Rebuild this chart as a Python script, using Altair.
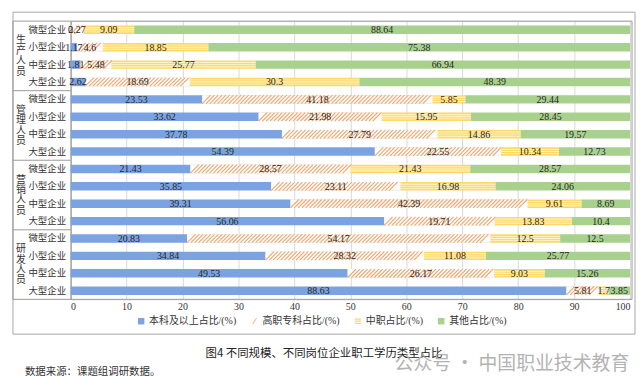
import altair as alt
import pandas as pd

groups = ["生产人员", "管理人员", "营销人员", "研发人员"]
sizes = ["微型企业", "小型企业", "中型企业", "大型企业"]
cats = ["本科及以上占比/(%)", "高职专科占比/(%)", "中职占比/(%)", "其他占比/(%)"]
colors = ["#7ba3e2", "#f4b183", "#ffd966", "#a9d18e"]

bachelor = [0, 1.17, 1.81, 2.62, 23.53, 33.62, 37.78, 54.39, 21.43, 35.85, 39.31, 56.06, 20.83, 34.84, 49.53, 88.63]
higher_voc = [2.27, 4.6, 5.48, 18.69, 41.18, 21.98, 27.79, 22.55, 28.57, 23.11, 42.39, 19.71, 54.17, 28.32, 26.17, 5.81]
sec_voc = [9.09, 18.85, 25.77, 30.3, 5.85, 15.95, 14.86, 10.34, 21.43, 16.98, 9.61, 13.83, 12.5, 11.08, 9.03, 1.7]
other = [88.64, 75.38, 66.94, 48.39, 29.44, 28.45, 19.57, 12.73, 28.57, 24.06, 8.69, 10.4, 12.5, 25.77, 15.26, 3.85]

caption = "图4   不同规模、不同岗位企业职工学历类型占比"
source = "数据来源：课题组调研数据。"
watermark = "公众号 · 中国职业技术教育"

series = [bachelor, higher_voc, sec_voc, other]
rows = []
keys = []
for gi, g in enumerate(groups):
    for si, s in enumerate(sizes):
        i = gi * 4 + si
        key = f"{g}|{s}"
        keys.append(key)
        start = 0.0
        for ci, c in enumerate(cats):
            v = series[ci][i]
            rows.append({"key": key, "group": g, "size": s, "cat": c, "order": ci,
                         "v": v, "x0": start, "x1": start + v, "mid": start + v / 2,
                         "label": f"{v:g}"})
            start += v
seg = pd.DataFrame(rows)

grp_rows = []
for gi, g in enumerate(groups):
    grp_rows.append({"first": f"{g}|{sizes[0]}", "second": f"{g}|{sizes[1]}",
                     "text": "\n".join(list(g)), "gi": gi})
grp = pd.DataFrame(grp_rows)

NUM_FONT = "Liberation Serif, Noto Sans CJK SC"
CJK = "Noto Sans CJK SC"

xscale = alt.Scale(domain=[0, 100], nice=False, zero=True)
xaxis = alt.Axis(values=list(range(0, 101, 10)), grid=True, gridColor="#d9d9d9", domain=False,
                 ticks=False, labelFont=NUM_FONT, labelFontSize=10, labelColor="#333333",
                 labelPadding=2, title=None)
yscale = alt.Scale(domain=keys, paddingInner=0, paddingOuter=0)
yaxis = alt.Axis(title=None, ticks=False, domain=True, domainColor="#8c8c8c", grid=False,
                 labelExpr="split(datum.value, '|')[1]", labelFont=NUM_FONT, labelFontSize=9.5,
                 labelColor="#333333", labelPadding=5)


def Y(field="key", **kw):
    return alt.Y(f"{field}:N", scale=yscale, axis=yaxis, sort=keys, title=None, **kw)


base = alt.Chart(seg)
BAR_H = 8.5

legend_paths = [
    "square",
    "M-0.75,0.9L0.45,-0.9L0.8,-0.9L-0.4,0.9Z",
    "M-1,-0.85H1V-0.45H-1Z M-1,-0.2H1V0.2H-1Z M-1,0.45H1V0.85H-1Z",
    "square",
]
leg = alt.Legend(orient="none", legendX=66, legendY=297, direction="horizontal", title=None,
                 symbolSize=42, labelFont=NUM_FONT, labelFontSize=10, labelColor="#333333",
                 columnPadding=13, labelOffset=3, padding=0, symbolStrokeWidth=0)
color_scale = alt.Scale(domain=cats, range=colors)

legend_layer = base.transform_filter(alt.datum.v > 4).mark_point(size=16, filled=True, opacity=1).encode(
    x=alt.X("mid:Q", scale=xscale, axis=xaxis, title=None), y=Y(),
    color=alt.Color("cat:N", scale=color_scale, legend=leg),
    shape=alt.Shape("cat:N", scale=alt.Scale(domain=cats, range=legend_paths), legend=leg),
)

bars = base.mark_bar(size=BAR_H).encode(
    x=alt.X("x0:Q", scale=xscale, axis=xaxis, title=None),
    x2="x1:Q",
    y=Y(),
    color=alt.Color("cat:N", scale=color_scale, legend=leg),
)

white_hv = base.transform_filter(alt.datum.order == 1).mark_bar(size=BAR_H, color="white").encode(
    x=alt.X("x0:Q", scale=xscale, axis=xaxis, title=None), x2="x1:Q", y=Y())

hatch = base.transform_filter(alt.datum.order == 1).transform_calculate(
    hx="sequence(datum.x0 + 0.75, datum.x1 - 0.6, 0.68)"
).transform_flatten(["hx"]).mark_point(
    shape="M-1,1L1,-1", size=BAR_H * BAR_H, filled=False, stroke="#f0a46c", strokeWidth=1.1, opacity=1
).encode(x=alt.X("hx:Q", scale=xscale, axis=xaxis, title=None), y=Y())

stripes = []
for off in (-2.1, 0.0, 2.1):
    stripes.append(base.transform_filter(alt.datum.order == 2).mark_bar(
        size=0.9, yOffset=off, color="#fff6d5").encode(
        x=alt.X("x0:Q", scale=xscale, axis=xaxis, title=None), x2="x1:Q", y=Y()))

labels = base.mark_text(font=NUM_FONT, fontSize=10, color="#262626", baseline="middle", dy=0.5).encode(
    x=alt.X("mid:Q", scale=xscale, axis=xaxis, title=None), y=Y(), text="label:N")

one = pd.DataFrame({"t": [0]})
frame = alt.Chart(one).mark_rect(filled=False, stroke="#a6a6a6", strokeWidth=1).encode(
    x=alt.value(-58), x2=alt.value(568), y=alt.value(-9), y2=alt.value(315))
inner = alt.Chart(one).mark_rect(filled=False, stroke="#9a9a9a", strokeWidth=1).encode(
    x=alt.value(-58), x2=alt.value(565), y=alt.value(0), y2=alt.value(280))

sep = alt.Chart(grp).transform_filter(alt.datum.gi > 0).mark_rule(color="#9a9a9a", strokeWidth=1).encode(
    y=Y("first", bandPosition=0), x=alt.value(-58), x2=alt.value(0))

gtext = alt.Chart(grp).mark_text(font=NUM_FONT, fontSize=10, color="#333333", lineBreak="\n",
                                 lineHeight=10.5, baseline="middle", align="center", dy=-15.5).encode(
    y=Y("second", bandPosition=1), x=alt.value(-50), text="text:N")

cap = alt.Chart(pd.DataFrame({"t": [caption]})).mark_text(
    font=CJK, fontSize=11.5, color="#222222", align="center", baseline="middle").encode(
    x=alt.value(255), y=alt.value(335), text="t:N")
src = alt.Chart(pd.DataFrame({"t": [source]})).mark_text(
    font=CJK, fontSize=10.5, color="#333333", align="left", baseline="middle").encode(
    x=alt.value(-46), y=alt.value(353), text="t:N")
wm = alt.Chart(pd.DataFrame({"t": [watermark]})).mark_text(
    font=CJK, fontSize=19, color="#9a9a9a", opacity=0.75, align="left", baseline="middle").encode(
    x=alt.value(326), y=alt.value(345), text="t:N")

chart = alt.layer(
    frame, inner, legend_layer, bars, white_hv, hatch, *stripes, labels, sep, gtext, cap, src, wm
).properties(
    width=563, height=280,
    autosize=alt.AutoSizeParams(type="none"),
    padding={"left": 63, "top": 12, "right": 6, "bottom": 88},
).configure_view(stroke=None).configure(background="white")

chart.save("out.html", embed_options={"renderer": "svg", "actions": False})
